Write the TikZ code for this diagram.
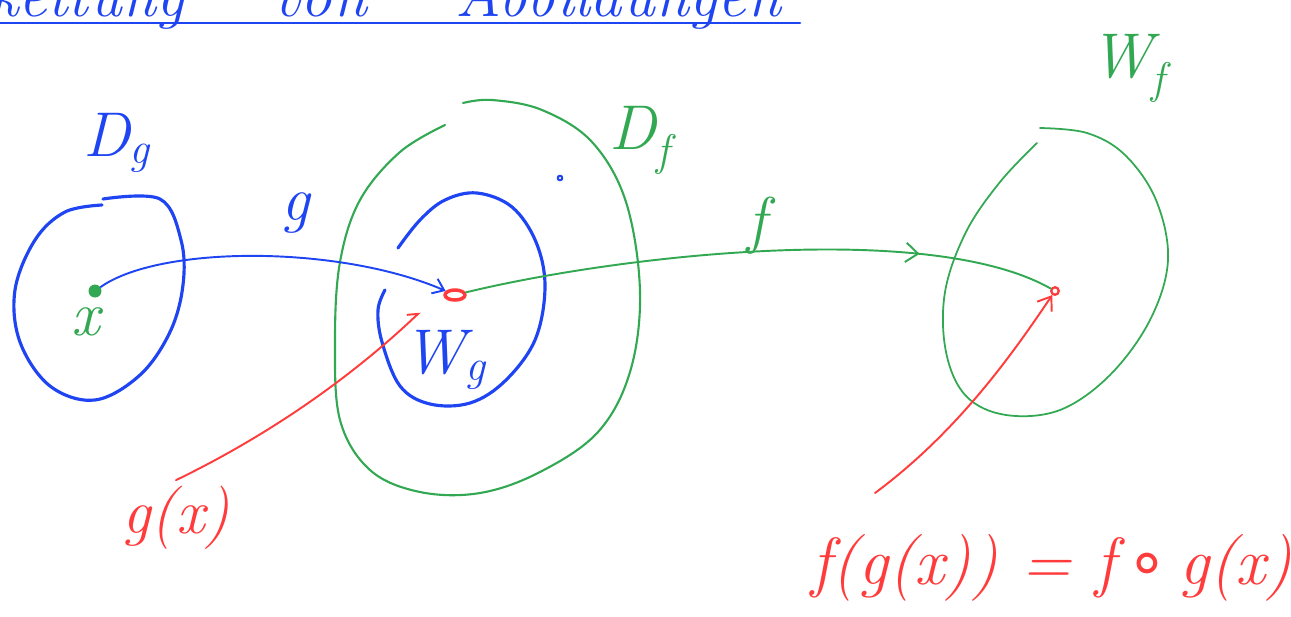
\documentclass[tikz,border=0pt]{standalone}
\usepackage{fontspec}
\newfontfamily\symfont{DejaVu Sans}
\usetikzlibrary{arrows.meta,decorations.markings,shapes.geometric}
\definecolor{InkBlue}{HTML}{1F45F2}
\definecolor{InkGreen}{HTML}{33A853}
\definecolor{InkRed}{HTML}{FF3B3B}

\begin{document}
\begin{tikzpicture}[x=0.02cm, y=-0.02cm, line cap=round, line join=round,
  every node/.style={font=\fontsize{36}{40}\selectfont\itshape}]
  \tikzstyle{ink}=[line width=1.8pt]
  \tikzstyle{thinink}=[line width=1.1pt]
  \tikzstyle{titleword}=[InkBlue, inner sep=0pt]
  \tikzstyle{midarrow}=[postaction={decorate}, decoration={markings,
    mark=at position 0.77 with {\arrow{Straight Barb[length=7pt, width=11pt]}}}]
  \useasboundingbox (0,0) rectangle (1291,616);
  \clip (0,0) rectangle (1291,616);
  % title, cut off at the top
  \node[titleword, anchor=base east] (wordA) at (185,16) {Verkettung};
  \node[titleword, anchor=base west] (wordB) at (272,16) {von};
  \node[titleword, anchor=base west] (wordC) at (455,16) {Abbildungen};
  \draw[InkBlue, line width=1.5pt] (0,23) -- (800,23);
  % sets
  \draw[InkBlue, ink] plot[smooth, tension=0.6] coordinates {(103,199) (160,199) (181,240)
    (183,285) (170,332) (140,375) (95,400) (50,386) (20,342) (15,290) (35,240) (65,212) (102,205)};
  \draw[InkBlue, ink] plot[smooth, tension=0.6] coordinates {(398,248) (420,220) (445,200)
    (477,193) (512,207) (536,242) (545,287) (535,340) (505,381) (470,403) (430,404) (400,386)
    (382,342) (378,310) (385,290)};
  \draw[InkGreen, line width=1.2pt] plot[smooth, tension=0.6] coordinates {(445,125) (400,152)
    (360,200) (340,262) (335,340) (340,420) (370,470) (420,492) (480,493) (540,472) (598,432)
    (630,372) (640,292) (626,202) (592,142) (542,110) (492,100) (463,103)};
  \draw[InkGreen, line width=1.0pt] plot[smooth, tension=0.6] coordinates {(1037,143) (1000,182)
    (966,232) (945,292) (946,352) (966,396) (1006,415) (1060,410) (1110,375) (1150,320)
    (1168,260) (1156,200) (1125,155) (1087,133) (1040,128)};
  % points
  \node[circle, fill=InkGreen, inner sep=0pt, minimum size=0.26cm] (xpt) at (95,291) {};
  \node[ellipse, draw=InkRed, line width=2pt, inner sep=0pt, minimum width=0.4cm,
    minimum height=0.2cm] (gxpt) at (455,295) {};
  \node[circle, draw=InkBlue, line width=1.2pt, inner sep=0pt, minimum size=0.09cm] (dfpt) at (560,178) {};
  \node[circle, draw=InkRed, line width=1.3pt, inner sep=0pt, minimum size=0.15cm] (fgpt) at (1055,291) {};
  % labels
  \node[InkBlue] (dglabel) at (117,143) {D\textsubscript{g}};
  \node[InkBlue] (glabel) at (296,213) {g};
  \node[InkGreen] (xlabel) at (86,322) {x};
  \node[InkBlue] (wglabel) at (445,360) {W\textsubscript{g}};
  \node[InkGreen] (dflabel) at (640,140) {D\textsubscript{f}};
  \node[InkGreen] (flabel) at (757,226) {f};
  \node[InkGreen] (wflabel) at (1128,68) {W\textsubscript{f}};
  \node[InkRed] (gxlabel) at (176,518) {g(x)};
  \node[InkRed, font=\fontsize{38}{42}\selectfont\itshape] (fglabel) at (1052,568)
    {f(g(x)) = f\,{\upshape\symfont ∘}\,g(x)};
  % maps
  \draw[InkBlue, thinink, -{Straight Barb[length=6pt, width=9pt]}] (xpt)
    .. controls (160,245) and (340,245) .. (gxpt);
  \draw[InkGreen, thinink, midarrow] (gxpt) .. controls (620,255) and (930,220) .. (fgpt);
  \coordinate (gxhook) at (420,312);
  \coordinate (fgtail) at (875,493);
  \draw[InkRed, thinink, -{Straight Barb[left, length=5pt, width=8pt]}] (gxlabel.north)
    .. controls (300,420) and (380,350) .. (gxhook);
  \draw[InkRed, thinink, -{Straight Barb[length=7pt, width=10pt]}] (fgtail)
    .. controls (960,430) and (1015,350) .. (fgpt);
\end{tikzpicture}
\end{document}
